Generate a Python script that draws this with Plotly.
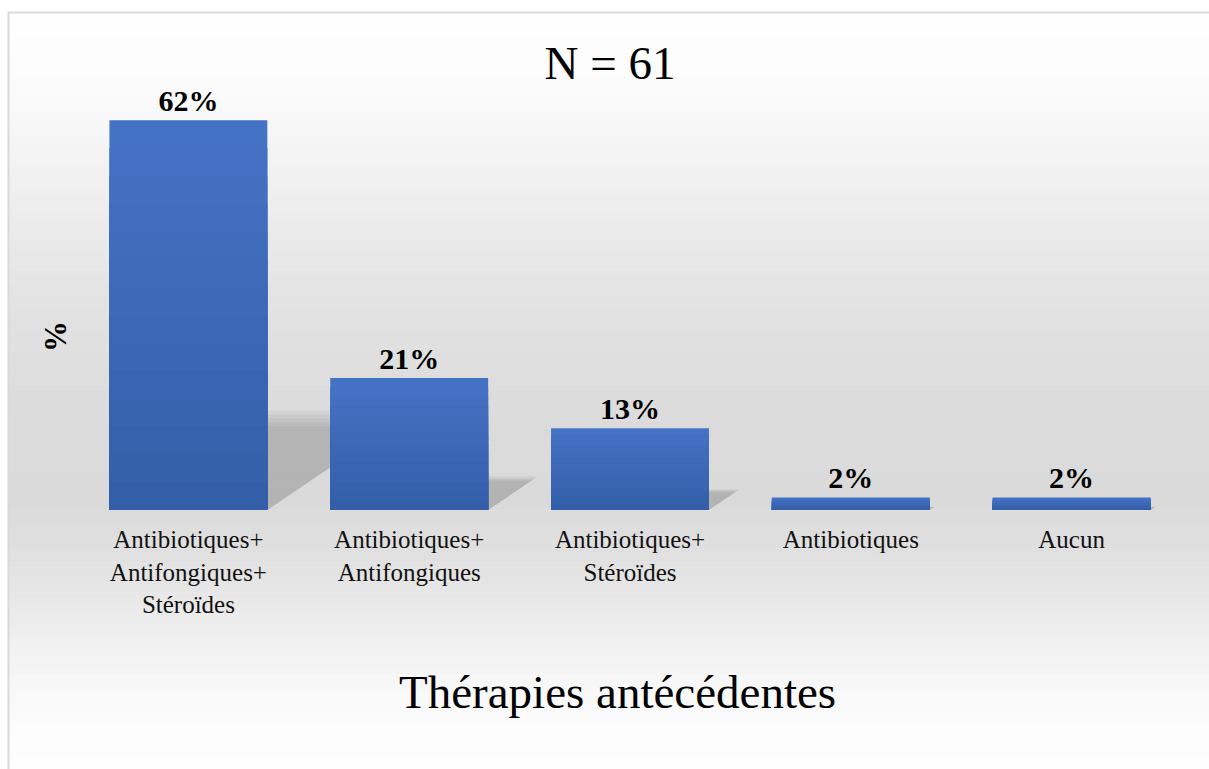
import plotly.graph_objects as go

categories = [
    "Antibiotiques+<br>Antifongiques+<br>Stéroïdes",
    "Antibiotiques+<br>Antifongiques",
    "Antibiotiques+<br>Stéroïdes",
    "Antibiotiques",
    "Aucun",
]
values = [62, 21, 13, 2, 2]
labels = ["62%", "21%", "13%", "2%", "2%"]

W, H = 1209, 769
ML, MR, MT, MB = 78, 27, 70, 259
PW, PH = W - ML - MR, H - MT - MB
SERIF = "Liberation Serif"


def px_x(px):
    return (px - ML) / PW


def px_y(py):
    return (H - MB - py) / PH


fig = go.Figure()

# bars: light blue at top fading to darker blue at the base
top_rgb, bot_rgb = (68, 114, 196), (52, 94, 168)
steps = 14
for j in range(steps):
    t = j / (steps - 1)
    c = tuple(round(a + (b - a) * t) for a, b in zip(top_rgb, bot_rgb))
    frac = 1 - j / steps
    fig.add_trace(go.Bar(
        x=categories, y=[v * frac for v in values],
        text=labels if j == 0 else None,
        textposition="outside" if j == 0 else "none", cliponaxis=False,
        marker=dict(color=f"rgb{c}", line=dict(width=0)),
        textfont=dict(family=SERIF, size=30, color="black", weight="bold"),
        hoverinfo="skip",
    ))

shapes = []
# background gradient (white -> grey -> white)
stops = [(12, 255), (100, 250), (200, 238), (300, 227), (400, 220),
         (500, 218), (560, 225), (620, 236), (680, 247), (740, 253), (769, 254)]
n = 120
for k in range(n):
    y0 = 12 + (H - 12) * k / n
    y1 = 12 + (H - 12) * (k + 1) / n
    ym = (y0 + y1) / 2
    for (a, ga), (b, gb) in zip(stops[:-1], stops[1:]):
        if a <= ym <= b:
            g = round(ga + (gb - ga) * (ym - a) / (b - a))
            break
    shapes.append(dict(type="rect", xref="paper", yref="paper", layer="below",
                       x0=px_x(8), x1=px_x(W + 5), y0=px_y(y1 + 0.5), y1=px_y(y0),
                       fillcolor=f"rgb({g},{g},{g})", line=dict(width=0)))

# frame
shapes.append(dict(type="rect", xref="paper", yref="paper", layer="below",
                   x0=px_x(8.5), x1=px_x(W + 5), y0=px_y(H + 5), y1=px_y(12.5),
                   fillcolor="rgba(0,0,0,0)", line=dict(color="#d9d9d9", width=2)))

# soft floor shadows cast behind the bars
hw = 0.3575
for i, v in enumerate(values):
    for kk in [0.255, 0.245, 0.235, 0.225, 0.215]:
        k, s = kk * v, kk * v * 0.042
        path = (f"M {i - hw},0 L {i + hw},0 L {i + hw + s},{k} "
                f"L {i - hw + s},{k} Z")
        shapes.append(dict(type="path", xref="x", yref="y", layer="below", path=path,
                           fillcolor="rgba(60,60,60,0.05)", line=dict(width=0)))

annotations = [
    dict(text="<b>%</b>", xref="paper", yref="paper", x=px_x(55), y=px_y(337),
         textangle=-90, showarrow=False, font=dict(family=SERIF, size=31, color="black"),
         xanchor="center", yanchor="middle"),
    dict(text="Thérapies antécédentes", xref="paper", yref="paper",
         x=px_x(617), y=px_y(692), showarrow=False,
         font=dict(family=SERIF, size=47, color="black"),
         xanchor="center", yanchor="middle"),
]

fig.update_layout(
    width=W, height=H,
    margin=dict(l=ML, r=MR, t=MT, b=MB, autoexpand=False),
    paper_bgcolor="white", plot_bgcolor="rgba(0,0,0,0)",
    title=dict(text="N = 61", x=610 / W, y=1 - 63 / H, xanchor="center", yanchor="middle",
               font=dict(family=SERIF, size=47, color="black")),
    barmode="overlay",
    bargap=0.285,
    showlegend=False,
    shapes=shapes,
    annotations=annotations,
    xaxis=dict(showgrid=False, showline=False, zeroline=False, ticks="",
               tickfont=dict(family=SERIF, size=25, color="#111111"),
               ticklabelstandoff=12,
               fixedrange=True, automargin=False),
    yaxis=dict(range=[0, 70], showgrid=False, showline=False, zeroline=False,
               showticklabels=False, ticks="", fixedrange=True, automargin=False),
)

fig.write_html("out.html", config={"displayModeBar": False},
               post_script="document.body.style.margin='0px';")
